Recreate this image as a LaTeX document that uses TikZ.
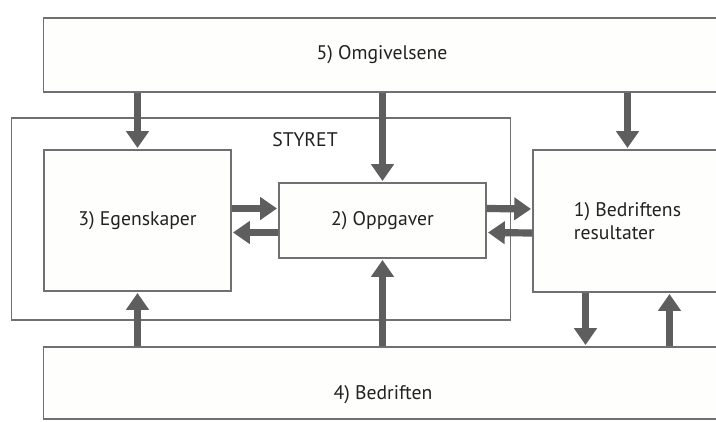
\documentclass[tikz,border=0pt]{standalone}
\usepackage{fontspec}
\setmainfont{PT Sans}
\usetikzlibrary{arrows.meta,calc,positioning}
\definecolor{paper}{HTML}{FEFEFC}
\definecolor{ink}{HTML}{222222}
\definecolor{frame}{HTML}{707070}
\definecolor{shaft}{HTML}{5E5E5E}
\newcommand{\Gap}{12}
\newcommand{\Split}{42}

\begin{document}
\begin{tikzpicture}[
    x=0.025cm, y=-0.025cm,
    font=\fontsize{14}{16}\selectfont, ink,
    box/.style={draw=frame, line width=0.8pt, fill=paper, inner sep=0pt, align=center},
    fat/.style={-{Triangle[width=0.55cm,length=0.42cm]}, line width=0.18cm, draw=shaft, fill=shaft, shorten >=1pt},
  ]
\useasboundingbox (0,0) rectangle (716,421);
\clip (0,0) rectangle (716,421);
\fill[white] (0,0) rectangle (716,421);

% --- The board frame ---------------------------------------------------------
\node[box, fill=none, minimum width=12.45cm, minimum height=5.05cm] (styret) at (261,219) {};
\node (styretlabel) at (305,140) {STYRET};

% --- The boxes -----------------------------------------------------------------
\node[box, minimum width=16.9cm, minimum height=1.85cm] (omg) at (382,55) {5) Omgivelsene};
\node[box, minimum width=4.675cm, minimum height=3.525cm] (egen) at (137.5,220.5) {3) Egenskaper};
\node[box, minimum width=5.175cm, minimum height=1.875cm] (opp) at (382.5,220.5) {2) Oppgaver};
\node[box, minimum width=4.725cm, minimum height=3.55cm, align=left] (res) at (627.5,221) {1) Bedriftens\\resultater};
\node[box, minimum width=16.95cm, minimum height=1.8cm,
      label={[name=bedrtxt, yshift=-0.3cm]center:4) Bedriften}] (bedr) at (383,383) {};

% --- Down from the surroundings ---------------------------------------------------
\draw[fat] (omg.south -| egen.north) -- (egen.north);
\draw[fat] (omg.south -| opp.north) -- (opp.north);
\draw[fat] (omg.south -| res.north) -- (res.north);

% --- Back and forth around the tasks ---------------------------------------------
\draw[fat] ($(egen.east)+(0,-\Gap)$) -- ($(opp.west)+(0,-\Gap)$);
\draw[fat] ($(opp.west)+(0,\Gap)$) -- ($(egen.east)+(0,\Gap)$);
\draw[fat] ($(opp.east)+(0,-\Gap)$) -- ($(res.west)+(0,-\Gap)$);
\draw[fat] ($(res.west)+(0,\Gap)$) -- ($(opp.east)+(0,\Gap)$);

% --- Up from the company, and the results down to it -------------------------------
\coordinate (resdown) at ($(res.south)+(-\Split,0)$);
\coordinate (resup) at ($(res.south)+(\Split,0)$);
\draw[fat] (bedr.north -| egen.south) -- (egen.south);
\draw[fat] (bedr.north -| opp.south) -- (opp.south);
\draw[fat] (resdown) -- (resdown |- bedr.north);
\draw[fat] (bedr.north -| resup) -- (resup);

\end{tikzpicture}
\end{document}
